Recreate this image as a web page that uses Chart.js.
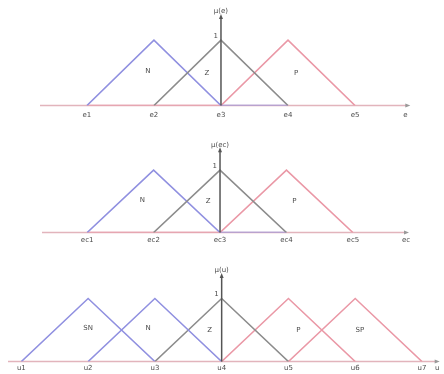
<!DOCTYPE html>
<html>
<head>
<meta charset="utf-8">
<script src="https://cdn.jsdelivr.net/npm/chart.js@4.4.0/dist/chart.umd.min.js"></script>
<style>
  body { margin: 0; background: #fff; width: 444px; height: 374px; overflow: hidden; position: relative; }
  canvas { position: absolute; left: 0; }
</style>
</head>
<body>
<canvas id="c1" width="444" height="125" style="top:0px"></canvas>
<canvas id="c2" width="444" height="122" style="top:125px"></canvas>
<canvas id="c3" width="444" height="127" style="top:247px"></canvas>
<script>
// --- panel 1 : e ---
const eTicks = [-2, -1, 0, 1, 2, 2.75];
const eTickLabels = ['e1', 'e2', 'e3', 'e4', 'e5', 'e'];
const eNx = [-2, -1, 0, 1];   const eNy = [0, 1, 0, 0];
const eZx = [-1, 0, 1];       const eZy = [0, 1, 0];
const ePx = [-2, 0, 1, 2];    const ePy = [0, 0, 1, 0];
const eNames = ['N', 'Z', 'P'];
const eNameX = [-1.09, -0.21, 1.12];
const eNameY = [0.53, 0.5, 0.5];

// --- panel 2 : ec ---
const ecTicks = [-2, -1, 0, 1, 2, 2.8];
const ecTickLabels = ['ec1', 'ec2', 'ec3', 'ec4', 'ec5', 'ec'];
const ecNx = [-2, -1, 0, 1];  const ecNy = [0, 1, 0, 0];
const ecZx = [-1, 0, 1];      const ecZy = [0, 1, 0];
const ecPx = [-2, 0, 1, 2];   const ecPy = [0, 0, 1, 0];
const ecNames = ['N', 'Z', 'P'];
const ecNameX = [-1.17, -0.18, 1.12];
const ecNameY = [0.52, 0.5, 0.5];

// --- panel 3 : u ---
const uTicks = [-3, -2, -1, 0, 1, 2, 3, 3.23];
const uTickLabels = ['u1', 'u2', 'u3', 'u4', 'u5', 'u6', 'u7', 'u'];
const uSNx = [-3, -2, -1];  const uSNy = [0, 1, 0];
const uNx = [-2, -1, 0];    const uNy = [0, 1, 0];
const uZx = [-1, 0, 1];     const uZy = [0, 1, 0];
const uPx = [0, 1, 2];      const uPy = [0, 1, 0];
const uSPx = [1, 2, 3];     const uSPy = [0, 1, 0];
const uNames = ['SN', 'N', 'Z', 'P', 'SP'];
const uNameX = [-2.0, -1.1, -0.18, 1.15, 2.07];
const uNameY = [0.53, 0.53, 0.5, 0.5, 0.5];

const BLUE = '#9090e0';
const GRAY = '#8c8c8c';
const RED = '#ea98a6';
const AXIS = '#e2b4bc';
const TXT = '#4a4a4a';
const FONT = '7px "DejaVu Sans", sans-serif';

function pts(xs, ys) {
  return xs.map((x, i) => ({ x: x, y: ys[i] }));
}

function makePanel(id, o) {
  const axesPlugin = {
    id: 'axes' + id,
    beforeDatasetsDraw(chart) {
      const ctx = chart.ctx, xs = chart.scales.x, ys = chart.scales.y;
      const y0 = ys.getPixelForValue(0);
      ctx.save();
      ctx.strokeStyle = AXIS;
      ctx.lineWidth = 1.5;
      ctx.beginPath();
      ctx.moveTo(xs.getPixelForValue(o.xMin), y0);
      ctx.lineTo(xs.getPixelForValue(o.arrowX), y0);
      ctx.stroke();
      ctx.restore();
    },
    afterDatasetsDraw(chart) {
      const ctx = chart.ctx, xs = chart.scales.x, ys = chart.scales.y;
      const x0 = xs.getPixelForValue(0), y0 = ys.getPixelForValue(0);
      const yTop = ys.getPixelForValue(o.vTop);
      const xa = xs.getPixelForValue(o.arrowX);
      ctx.save();
      // horizontal arrow head
      ctx.fillStyle = '#999';
      ctx.beginPath();
      ctx.moveTo(xa + 3, y0); ctx.lineTo(xa - 2, y0 - 2); ctx.lineTo(xa - 2, y0 + 2);
      ctx.closePath(); ctx.fill();
      // vertical axis
      ctx.strokeStyle = '#555';
      ctx.lineWidth = 1.5;
      ctx.beginPath();
      ctx.moveTo(x0, y0); ctx.lineTo(x0, yTop);
      ctx.stroke();
      ctx.fillStyle = '#555';
      ctx.beginPath();
      ctx.moveTo(x0, yTop - 4); ctx.lineTo(x0 - 2, yTop + 1); ctx.lineTo(x0 + 2, yTop + 1);
      ctx.closePath(); ctx.fill();
      // texts
      ctx.font = FONT;
      ctx.fillStyle = TXT;
      ctx.textAlign = 'center';
      ctx.textBaseline = 'bottom';
      ctx.fillText(o.title, x0, yTop - 3);
      ctx.textAlign = 'right';
      ctx.textBaseline = 'middle';
      ctx.fillText('1', x0 - 3, ys.getPixelForValue(1) - 4);
      ctx.textAlign = 'center';
      o.names.forEach((n, i) => {
        ctx.fillText(n, xs.getPixelForValue(o.nameX[i]), ys.getPixelForValue(o.nameY[i]));
      });
      ctx.restore();
    }
  };

  return new Chart(document.getElementById(id), {
    type: 'line',
    data: {
      datasets: o.sets.map(s => ({
        data: s.data,
        borderColor: s.color,
        borderWidth: 1.5,
        pointRadius: 0,
        tension: 0,
        fill: false
      }))
    },
    options: {
      responsive: false,
      animation: false,
      devicePixelRatio: 1,
      layout: { padding: o.padding },
      plugins: { legend: { display: false }, tooltip: { enabled: false } },
      scales: {
        x: {
          type: 'linear',
          min: o.xMin,
          max: o.xMax,
          grid: { display: false, drawTicks: false, tickLength: 0 },
          border: { display: false },
          afterBuildTicks(scale) {
            scale.ticks = o.ticks.map(v => ({ value: v }));
          },
          ticks: {
            autoSkip: false,
            maxRotation: 0,
            padding: o.tickPad,
            color: TXT,
            font: { size: 7, family: '"DejaVu Sans", sans-serif' },
            callback: (v, i) => o.tickLabels[i]
          }
        },
        y: { display: false, min: 0, max: o.yMax }
      }
    },
    plugins: [axesPlugin]
  });
}

makePanel('c1', {
  xMin: -2.7, xMax: 2.85, yMax: 1.4, vTop: 1.34, arrowX: 2.78,
  padding: { left: 40, right: 32, top: 14, bottom: 1 }, tickPad: 5,
  ticks: eTicks, tickLabels: eTickLabels, title: 'μ(e)',
  names: eNames, nameX: eNameX, nameY: eNameY,
  sets: [
    { data: pts(eZx, eZy), color: GRAY },
    { data: pts(eNx, eNy), color: BLUE },
    { data: pts(ePx, ePy), color: RED }
  ]
});

makePanel('c2', {
  xMin: -2.68, xMax: 2.86, yMax: 1.45, vTop: 1.3, arrowX: 2.8,
  padding: { left: 42, right: 34, top: 17, bottom: 0 }, tickPad: 3,
  ticks: ecTicks, tickLabels: ecTickLabels, title: 'μ(ec)',
  names: ecNames, nameX: ecNameX, nameY: ecNameY,
  sets: [
    { data: pts(ecZx, ecZy), color: GRAY },
    { data: pts(ecNx, ecNy), color: BLUE },
    { data: pts(ecPx, ecPy), color: RED }
  ]
});

makePanel('c3', {
  xMin: -3.2, xMax: 3.27, yMax: 1.5, vTop: 1.34, arrowX: 3.22,
  padding: { left: 8, right: 4, top: 20, bottom: 0 }, tickPad: 2,
  ticks: uTicks, tickLabels: uTickLabels, title: 'μ(u)',
  names: uNames, nameX: uNameX, nameY: uNameY,
  sets: [
    { data: pts(uSNx, uSNy), color: BLUE },
    { data: pts(uNx, uNy), color: BLUE },
    { data: pts(uZx, uZy), color: GRAY },
    { data: pts(uPx, uPy), color: RED },
    { data: pts(uSPx, uSPy), color: RED }
  ]
});
</script>
</body>
</html>
